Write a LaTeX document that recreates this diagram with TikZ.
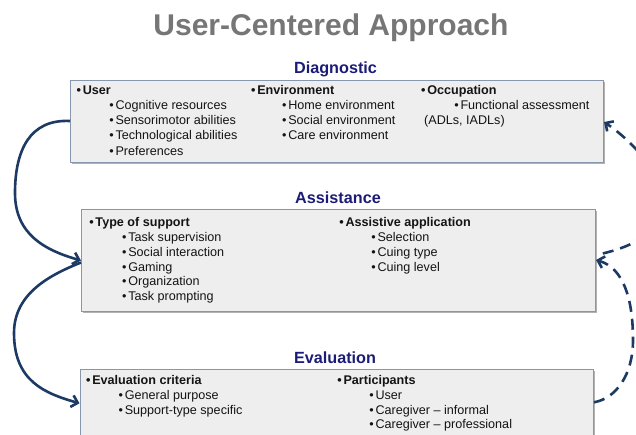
\documentclass[tikz,border=0pt]{standalone}
\usepackage{fontspec}
\setmainfont{Liberation Sans}
\usetikzlibrary{arrows.meta,calc,shadows}
\definecolor{navy}{RGB}{28,28,120}
\definecolor{arrowblue}{RGB}{28,58,100}
\definecolor{boxedge}{RGB}{135,150,172}
\definecolor{boxfill}{RGB}{238,238,238}
\definecolor{titlegray}{RGB}{118,118,118}
\newcommand{\bul}[1]{\textbullet\hspace{1.7pt}#1}
\begin{document}
\begin{tikzpicture}[x=1pt,y=-1pt,
 panel/.style={draw=boxedge, line width=1pt, fill=boxfill, anchor=north west, inner sep=0pt,
   drop shadow={shadow xshift=1pt, shadow yshift=-1.5pt, opacity=0.3, fill=black}},
 heading/.style={anchor=base, font=\fontsize{16.2}{19}\selectfont\bfseries, text=navy, inner sep=0pt},
 item/.style={anchor=base west, inner sep=0pt, font=\fontsize{12.6}{15}\selectfont, text=black!92},
 mainitem/.style={item, font=\fontsize{12.6}{15}\selectfont\bfseries},
 flow/.style={draw=arrowblue, line width=2.6pt, -{Straight Barb[length=6pt,width=12pt]}},
 feedback/.style={flow, dash pattern=on 11pt off 7pt}]

\useasboundingbox (0,0) rectangle (636,434);

\node[anchor=base, font=\fontsize{30}{36}\selectfont\bfseries, text=titlegray, inner sep=0pt] (title) at (331,35) {User-Centered Approach};

% panels
\node[panel, minimum width=533pt, minimum height=82pt] (diag) at (70,79.5) {};
\node[panel, minimum width=514pt, minimum height=102pt] (assist) at (81,209) {};
\node[panel, minimum width=513.5pt, minimum height=80pt] (evalbox) at (79.5,369.3) {};

% headings
\node[heading] (hdiag) at (335.5,73) {Diagnostic};
\node[heading] (hassist) at (338,203) {Assistance};
\node[heading] (heval) at (335,363.5) {Evaluation};

% Diagnostic items
\node[mainitem] (user) at (76.5,94) {\bul{User}};
\node[item] (cog) at (109.2,109.3) {\bul{Cognitive resources}};
\node[item] (sens) at (109.2,124.5) {\bul{Sensorimotor abilities}};
\node[item] (tech) at (109.2,139.7) {\bul{Technological abilities}};
\node[item] (pref) at (109.2,155) {\bul{Preferences}};
\node[mainitem] (env) at (251,94) {\bul{Environment}};
\node[item] (home) at (282,109.3) {\bul{Home environment}};
\node[item] (social) at (282,124.5) {\bul{Social environment}};
\node[item] (care) at (282,139.7) {\bul{Care environment}};
\node[mainitem] (occ) at (421,94) {\bul{Occupation}};
\node[item] (func) at (454.2,109.3) {\bul{Functional assessment}};
\node[item] (adl) at (424,124.5) {(ADLs, IADLs)};

% Assistance items
\node[mainitem] (type) at (89.2,226.7) {\bul{Type of support}};
\node[item] (tasksup) at (122,241.5) {\bul{Task supervision}};
\node[item] (socint) at (122,256.2) {\bul{Social interaction}};
\node[item] (gaming) at (122,271) {\bul{Gaming}};
\node[item] (org) at (122,285.7) {\bul{Organization}};
\node[item] (taskpr) at (122,300.4) {\bul{Task prompting}};
\node[mainitem] (assistive) at (339.2,226.7) {\bul{Assistive application}};
\node[item] (selection) at (371.2,241.5) {\bul{Selection}};
\node[item] (cuingtype) at (371.2,256.2) {\bul{Cuing type}};
\node[item] (cuinglevel) at (371.2,271) {\bul{Cuing level}};

% Evaluation items
\node[mainitem] (evalcrit) at (86,384) {\bul{Evaluation criteria}};
\node[item] (general) at (118.5,399.2) {\bul{General purpose}};
\node[item] (supporttype) at (118.5,414) {\bul{Support-type specific}};
\node[mainitem] (participants) at (337.2,384) {\bul{Participants}};
\node[item] (puser) at (369.2,399.2) {\bul{User}};
\node[item] (informal) at (369.2,414) {\bul{Caregiver -- informal}};
\node[item] (professional) at (369.2,428.7) {\bul{Caregiver -- professional}};

% solid flow arrows
\coordinate (m1) at (15,193);
\draw[flow] (diag.west) .. controls +(-40,-2) and +(0,-43) .. (m1)
  .. controls +(0,42) and +(-35,-10) .. (assist.west);
\coordinate (m2) at (14,333);
\draw[flow] ($(assist.west)+(0,2)$) .. controls +(-30,12) and +(0,-40) .. (m2)
  .. controls +(0,48) and +(-35,-10) .. ($(evalbox.north west)+(0,34)$);

% dashed feedback arrows
\coordinate (m3) at (633,340);
\draw[feedback] ($(evalbox.north east)+(0,33)$) .. controls +(22,-4) and +(0,35) .. (m3)
  .. controls +(0,-40) and +(28,8) .. ($(assist.north east)+(0,51)$);
\draw[feedback, dash phase=11pt] ($(assist.north east)+(0,46)$) .. controls +(120,-25) and +(42,28) .. ($(diag.north east)+(0,42.5)$);
\end{tikzpicture}
\end{document}
